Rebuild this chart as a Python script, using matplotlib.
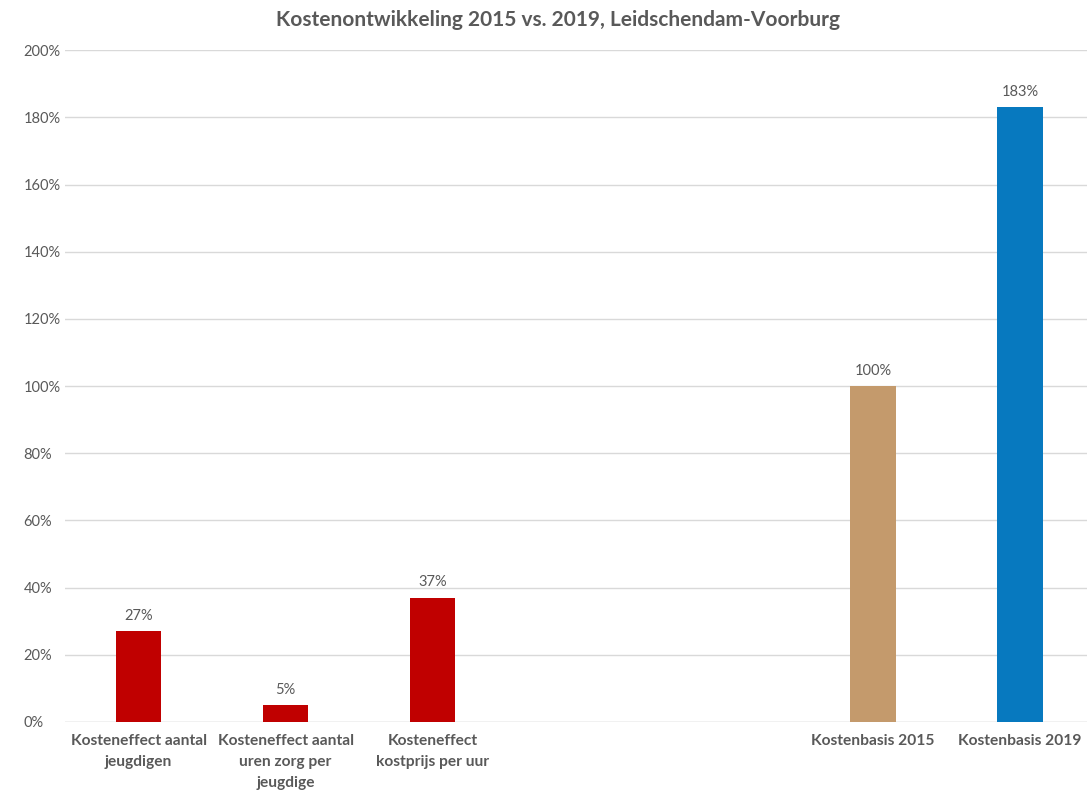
import numpy as np
import matplotlib.pyplot as plt

categories = [
    "Kosteneffect aantal\njeugdigen",
    "Kosteneffect aantal\nuren zorg per\njeugdige",
    "Kosteneffect\nkostprijs per uur",
    "",
    "",
    "Kostenbasis 2015",
    "Kostenbasis 2019",
]
values = [27, 5, 37, None, None, 100, 183]
bar_colors = ["#C00000", "#C00000", "#C00000", "none", "none", "#C49A6C", "#0779BF"]

plt.rcParams["font.family"] = ["Lato", "DejaVu Sans"]
text_color = "#595959"

fig = plt.figure(figsize=(10.87, 7.96), dpi=100)
ax = fig.add_axes([0.060, 0.093, 0.946, 0.844])

x = np.arange(len(categories))
for xi, v, c in zip(x, values, bar_colors):
    if v is None:
        continue
    ax.bar(xi, v, width=0.31, color=c, zorder=3)
    ax.text(xi, v + 2.5, f"{v}%", ha="center", va="bottom",
            fontsize=10.5, color=text_color)

ax.set_xlim(-0.5, len(categories) - 0.5)
ax.set_ylim(0, 200)
ax.set_yticks(np.arange(0, 201, 20))
ax.set_yticklabels([f"{t}%" for t in range(0, 201, 20)], fontsize=10.5, color=text_color)
ax.set_xticks(x)
ax.set_xticklabels(categories, fontsize=11.2, fontweight="bold", color=text_color,
                   linespacing=1.6, va="top")
ax.tick_params(axis="both", length=0)
ax.tick_params(axis="x", pad=9)
ax.tick_params(axis="y", pad=30)
for lbl in ax.get_yticklabels():
    lbl.set_horizontalalignment("left")

ax.grid(axis="y", color="#D9D9D9", linewidth=1, zorder=0)
for s in ax.spines.values():
    s.set_visible(False)
ax.axhline(0, color="#D9D9D9", linewidth=1, zorder=2)

fig.suptitle("Kostenontwikkeling 2015 vs. 2019, Leidschendam-Voorburg",
             x=0.513, y=0.987, fontsize=15, fontweight="bold", color=text_color)

fig.savefig("out.png", dpi=100)
